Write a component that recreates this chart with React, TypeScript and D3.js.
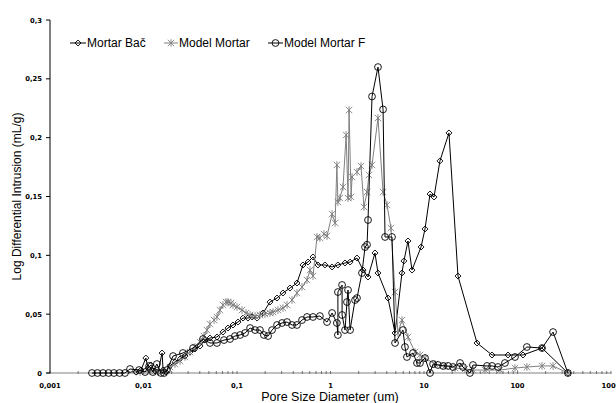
import React from "react";
import * as d3 from "d3";

const W = 616;
const H = 403;

const yTicks = [0, 0.05, 0.1, 0.15, 0.2, 0.25, 0.3];
const yTickLabels = ["0", "0,05", "0,1", "0,15", "0,2", "0,25", "0,3"];
const xTicks = [0.001, 0.01, 0.1, 1, 10, 100, 1000];
const xTickLabels = ["0,001", "0,01", "0,1", "1", "10", "100", "1000"];

const seriesNames = ["Mortar Bač", "Model Mortar", "Model Mortar F"];

const bacD = [0.0083, 0.0094, 0.0106, 0.0112, 0.012, 0.0133, 0.0143, 0.0158, 0.0162, 0.0174, 0.0192, 0.0217, 0.0246, 0.0278, 0.0314, 0.0355, 0.0402, 0.0455, 0.0514, 0.061, 0.0707, 0.08, 0.0906, 0.1025, 0.116, 0.131, 0.145, 0.164, 0.19, 0.225, 0.268, 0.31, 0.369, 0.438, 0.508, 0.575, 0.65, 0.734, 0.872, 1.04, 1.2, 1.43, 1.62, 1.92, 2.23, 2.52, 2.99, 3.22, 4.12, 4.9, 5.81, 6.1, 6.74, 7.44, 9.3, 10.25, 11.6, 12.8, 14.8, 18.5, 23.1, 36.9, 53.4, 79.2, 114.5, 183, 346];
const bacV = [0.0008, 0.0025, 0.0127, 0.0042, 0.0068, 0.0017, 0.0008, 0.017, 0.0025, 0.0008, 0.006, 0.0093, 0.0119, 0.0144, 0.0178, 0.0204, 0.0229, 0.028, 0.0297, 0.0306, 0.0348, 0.0382, 0.0408, 0.0433, 0.0467, 0.0467, 0.0476, 0.0467, 0.051, 0.0603, 0.0637, 0.068, 0.0722, 0.0765, 0.0918, 0.0943, 0.0986, 0.0918, 0.0918, 0.0901, 0.0918, 0.0935, 0.0943, 0.0977, 0.0875, 0.0816, 0.102, 0.085, 0.0637, 0.034, 0.085, 0.0952, 0.1122, 0.0875, 0.1071, 0.1224, 0.1521, 0.1496, 0.1802, 0.204, 0.0824, 0.0255, 0.0153, 0.0153, 0.0153, 0.0212, 0];

const modelD = [0.0092, 0.0117, 0.0143, 0.017, 0.0192, 0.0217, 0.0246, 0.0278, 0.0314, 0.0355, 0.0402, 0.0443, 0.0477, 0.0514, 0.0568, 0.061, 0.0657, 0.0707, 0.0763, 0.08, 0.0863, 0.0906, 0.1, 0.113, 0.125, 0.138, 0.156, 0.176, 0.199, 0.225, 0.243, 0.274, 0.31, 0.343, 0.388, 0.438, 0.496, 0.561, 0.604, 0.65, 0.717, 0.77, 0.852, 0.918, 1.04, 1.12, 1.17, 1.2, 1.26, 1.36, 1.47, 1.54, 1.58, 1.66, 1.7, 1.92, 2.12, 2.28, 2.46, 2.58, 2.78, 3.22, 3.65, 4.02, 4.43, 4.9, 5.27, 5.81, 6.74, 8.0, 9.06, 10.25, 13.1, 16.8, 21.5, 27.4, 33.4, 44.9, 65, 94, 126, 183, 240, 346];
const modelV = [0.0008, 0.0017, 0.0008, 0.0017, 0.0051, 0.0076, 0.0102, 0.0136, 0.0178, 0.0221, 0.0263, 0.0314, 0.0365, 0.0416, 0.045, 0.0476, 0.0535, 0.0578, 0.0603, 0.0603, 0.0595, 0.0578, 0.0561, 0.0535, 0.051, 0.0493, 0.0484, 0.0493, 0.0501, 0.051, 0.0518, 0.0535, 0.0552, 0.0578, 0.062, 0.068, 0.0731, 0.079, 0.0875, 0.0824, 0.1156, 0.1147, 0.1181, 0.1164, 0.1351, 0.1275, 0.1768, 0.1453, 0.1487, 0.1581, 0.2023, 0.1487, 0.2235, 0.1496, 0.1666, 0.1708, 0.1759, 0.1411, 0.1538, 0.1683, 0.1768, 0.2167, 0.1538, 0.1428, 0.1232, 0.0688, 0.034, 0.045, 0.0306, 0.0178, 0.0153, 0.0127, 0.0076, 0.006, 0.0042, 0.0034, 0.0025, 0.0025, 0.0025, 0.0042, 0.0051, 0.006, 0.006, 0];

const fD = [0.00281, 0.00322, 0.00369, 0.00423, 0.00483, 0.00555, 0.00634, 0.00717, 0.00895, 0.0104, 0.0115, 0.0126, 0.0139, 0.0154, 0.0166, 0.0178, 0.0207, 0.0264, 0.0339, 0.0433, 0.0514, 0.061, 0.0726, 0.0842, 0.095, 0.108, 0.122, 0.138, 0.156, 0.176, 0.194, 0.215, 0.237, 0.268, 0.303, 0.343, 0.388, 0.438, 0.496, 0.561, 0.65, 0.77, 0.918, 1.04, 1.17, 1.2, 1.2, 1.33, 1.33, 1.43, 1.5, 1.54, 1.62, 1.83, 1.92, 2.17, 2.34, 2.46, 2.52, 2.78, 3.22, 3.65, 3.83, 4.55, 4.9, 5.96, 6.26, 6.57, 7.63, 8.42, 9.06, 10.25, 11.6, 12.5, 14.1, 16.0, 18.1, 20.4, 24.3, 26.1, 31.0, 33.4, 47.2, 53.4, 61.9, 73.4, 94, 126, 183, 240, 346];
const fV = [0, 0, 0, 0, 0, 0, 0, 0.0034, 0.0025, 0.0008, 0.006, 0.0008, 0.0076, 0, 0, 0.0025, 0.0144, 0.017, 0.0212, 0.0289, 0.0255, 0.0255, 0.028, 0.0289, 0.0314, 0.0323, 0.034, 0.0382, 0.0365, 0.0365, 0.0323, 0.0314, 0.0365, 0.0408, 0.0425, 0.0433, 0.0408, 0.0408, 0.045, 0.0476, 0.0476, 0.0484, 0.0433, 0.051, 0.0425, 0.0323, 0.0688, 0.0748, 0.0493, 0.0365, 0.0603, 0.0705, 0.0365, 0.062, 0.0637, 0.085, 0.107, 0.109, 0.13, 0.235, 0.26, 0.224, 0.1156, 0.1156, 0.0255, 0.0365, 0.0221, 0.0136, 0.017, 0.0085, 0.0085, 0.0127, 0, 0.0076, 0.0068, 0.006, 0.006, 0.0051, 0.0085, 0.0051, 0, 0.0068, 0.006, 0.006, 0.0051, 0.0085, 0.0136, 0.0221, 0.0212, 0.0348, 0];

const x = d3.scaleLog().domain([0.001, 1000]).range([50, 611]);
const y = d3.scaleLinear().domain([0, 0.3]).range([373, 20]);

type Pt = [number, number];
const zip = (a: number[], b: number[]): Pt[] => a.map((d, i) => [d, b[i]]);

const line = d3
  .line<Pt>()
  .x((p) => x(p[0]))
  .y((p) => y(p[1]));

const Diamond = ({ cx, cy, s = 3 }: { cx: number; cy: number; s?: number }) => (
  <path
    d={`M${cx},${cy - s}L${cx + s},${cy}L${cx},${cy + s}L${cx - s},${cy}Z`}
    fill="none"
    stroke="#000"
    strokeWidth={0.9}
  />
);

const Star = ({ cx, cy, s = 3.2 }: { cx: number; cy: number; s?: number }) => (
  <path
    d={`M${cx - s},${cy - s}L${cx + s},${cy + s}M${cx - s},${cy + s}L${cx + s},${cy - s}M${cx},${cy - s * 1.2}L${cx},${cy + s * 1.2}`}
    fill="none"
    stroke="#808080"
    strokeWidth={0.9}
  />
);

const Circ = ({ cx, cy, r = 3.4 }: { cx: number; cy: number; r?: number }) => (
  <circle cx={cx} cy={cy} r={r} fill="none" stroke="#000" strokeWidth={0.9} />
);

export default function App() {
  const bac = zip(bacD, bacV);
  const model = zip(modelD, modelV);
  const f = zip(fD, fV);

  const minor: number[] = [];
  for (let e = -3; e < 3; e++) {
    for (let m = 2; m <= 9; m++) minor.push(m * Math.pow(10, e));
  }

  const tickFont = { fontFamily: "DejaVu Sans, Verdana, sans-serif", fontSize: 6.8, fontWeight: 700 as const };
  const labelFont = { fontFamily: "Liberation Sans, Arial, sans-serif", fontSize: 12 };

  const legendY = 43;
  const legend = [
    { x0: 70, x1: 86, tx: 87, kind: 0 },
    { x0: 164, x1: 178, tx: 179, kind: 1 },
    { x0: 268, x1: 283, tx: 284, kind: 2 },
  ];

  return (
    <svg
      width={W}
      height={H}
      viewBox={`0 0 ${W} ${H}`}
      style={{ position: "absolute", left: 0, top: 0, background: "#fff" }}
    >
      {/* X axis */}
      <line x1={46} x2={611} y1={y(0)} y2={y(0)} stroke="#808080" strokeWidth={1} />
      {minor.map((v, i) => (
        <line key={"mn" + i} x1={x(v)} x2={x(v)} y1={y(0) - 2} y2={y(0) + 1} stroke="#555" strokeWidth={0.8} />
      ))}
      {xTicks.map((v, i) => (
        <g key={"xt" + i}>
          <line x1={x(v)} x2={x(v)} y1={y(0) - 2} y2={y(0) + 1} stroke="#555" strokeWidth={0.8} />
          <text x={x(v)} y={388} textAnchor="middle" {...tickFont} fill="#000">
            {xTickLabels[i]}
          </text>
        </g>
      ))}
      {/* Y axis */}
      <line x1={50} x2={50} y1={y(0.3)} y2={y(0)} stroke="#000" strokeWidth={1} />
      {yTicks.map((v, i) => (
        <g key={"yt" + i}>
          <line x1={46} x2={50} y1={y(v)} y2={y(v)} stroke="#000" strokeWidth={1} />
          <text x={42} y={y(v) + 2.5} textAnchor="end" {...tickFont} fill="#000">
            {yTickLabels[i]}
          </text>
        </g>
      ))}

      {/* Series */}
      <path d={line(bac) || ""} fill="none" stroke="#000" strokeWidth={1} />
      {bac.map((p, i) => (
        <Diamond key={"b" + i} cx={x(p[0])} cy={y(p[1])} />
      ))}
      <path d={line(model) || ""} fill="none" stroke="#808080" strokeWidth={1} />
      {model.map((p, i) => (
        <Star key={"m" + i} cx={x(p[0])} cy={y(p[1])} />
      ))}
      <path d={line(f) || ""} fill="none" stroke="#000" strokeWidth={1} />
      {f.map((p, i) => (
        <Circ key={"f" + i} cx={x(p[0])} cy={y(p[1])} />
      ))}

      {/* Legend */}
      {legend.map((l, i) => (
        <g key={"lg" + i}>
          <line
            x1={l.x0}
            x2={l.x1}
            y1={legendY}
            y2={legendY}
            stroke={l.kind === 1 ? "#808080" : "#000"}
            strokeWidth={1}
          />
          {l.kind === 0 && <Diamond cx={(l.x0 + l.x1) / 2} cy={legendY} />}
          {l.kind === 1 && <Star cx={(l.x0 + l.x1) / 2} cy={legendY} />}
          {l.kind === 2 && <Circ cx={(l.x0 + l.x1) / 2} cy={legendY} />}
          <text x={l.tx} y={legendY + 4.3} {...labelFont} fill="#000">
            {seriesNames[i]}
          </text>
        </g>
      ))}

      {/* Axis titles */}
      <text x={330} y={401} textAnchor="middle" {...labelFont} fontSize={12.5} fill="#000">
        Pore Size Diameter (um)
      </text>
      <text
        transform={`translate(21,${(y(0) + y(0.3)) / 2}) rotate(-90)`}
        textAnchor="middle"
        {...labelFont}
        fill="#000"
      >
        Log Differential Intrusion (mL/g)
      </text>
    </svg>
  );
}
